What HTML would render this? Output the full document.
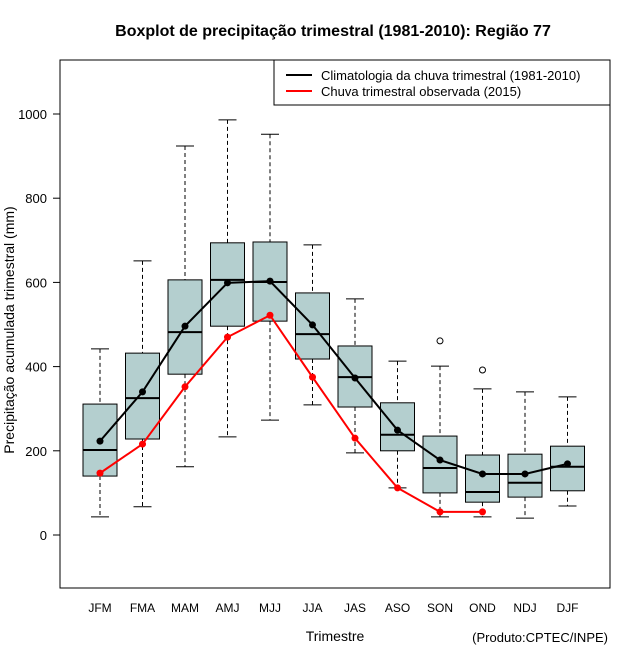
<!DOCTYPE html>
<html><head><meta charset="utf-8"><style>
body{margin:0;background:#fff;}
svg text{font-family:"Liberation Sans",sans-serif;}
</style></head><body>
<svg id="chart" width="640" height="660" xmlns="http://www.w3.org/2000/svg">
<rect width="640" height="660" fill="#fff"/>
<text x="333" y="36" text-anchor="middle" font-size="16" font-weight="bold">Boxplot de precipitação trimestral (1981-2010): Região 77</text>
<rect x="60" y="60" width="550" height="528" fill="none" stroke="#000"/>
<g id="yaxis"></g>
<g id="xaxis"></g>
<g id="boxes"></g>
<g id="lines"></g>
<text x="14" y="330" transform="rotate(-90 14 330)" text-anchor="middle" font-size="14">Precipitação acumulada trimestral (mm)</text>
<text x="335" y="641" text-anchor="middle" font-size="14">Trimestre</text>
<text x="608" y="642" text-anchor="end" font-size="13">(Produto:CPTEC/INPE)</text>
<g>
<rect x="274" y="60" width="336" height="45" fill="#fff" stroke="#000"/>
<line x1="286" y1="75" x2="312" y2="75" stroke="#000" stroke-width="2"/>
<text x="321" y="80" font-size="13">Climatologia da chuva trimestral (1981-2010)</text>
<line x1="286" y1="91" x2="312" y2="91" stroke="#f00" stroke-width="2"/>
<text x="321" y="96" font-size="13">Chuva trimestral observada (2015)</text>
</g>
</svg>
<script>
const categories=["JFM","FMA","MAM","AMJ","MJJ","JJA","JAS","ASO","SON","OND","NDJ","DJF"];
const whiskerLow=[43,67,162,233,273,309,195,112,43,43,40,69];
const q1=[140,228,382,496,508,418,304,200,100,78,90,105];
const median=[202,325,482,606,601,477,375,238,159,102,124,162];
const q3=[311,432,606,694,696,575,449,314,235,190,192,211];
const whiskerHigh=[442,651,924,986,952,689,561,413,401,347,340,328];
const outlierCat=[8,9];
const outlierVal=[461,392];
const climMean=[223,340,496,599,603,499,373,249,178,145,145,169];
const observed=[147,216,352,470,522,375,230,112,55,55];
const yTicks=[0,200,400,600,800,1000];
const NS="http://www.w3.org/2000/svg";
const y=v=>535-v*0.421;
const x=i=>100+i*42.5;
function mk(p,tag,a){const e=document.createElementNS(NS,tag);for(const k in a)e.setAttribute(k,a[k]);p.appendChild(e);return e;}
const ya=document.getElementById('yaxis');
mk(ya,'line',{x1:60,x2:60,y1:y(0),y2:y(1000),stroke:'#000'});
yTicks.forEach(t=>{
 const l=mk(ya,'line',{x1:53,x2:60,y1:y(t),y2:y(t),stroke:'#000'});
 
 
 const tx=mk(ya,'text',{x:47,y:y(t)+5,'text-anchor':'end','font-size':13});
 tx.textContent=t;
 
 
});
const xa=document.getElementById('xaxis');
categories.forEach((c,i)=>{
 const t=mk(xa,'text',{x:x(i),y:612,'text-anchor':'middle','font-size':12});
 t.textContent=c;
 
 
});
const bx=document.getElementById('boxes');
categories.forEach((c,i)=>{
 const g=mk(bx,'g',{});
 
 
 const cx=x(i),w=17;
 mk(g,'line',{x1:cx,x2:cx,y1:y(whiskerHigh[i]),y2:y(q3[i]),stroke:'#000','stroke-dasharray':'4,3'});
 mk(g,'line',{x1:cx,x2:cx,y1:y(q1[i]),y2:y(whiskerLow[i]),stroke:'#000','stroke-dasharray':'4,3'});
 mk(g,'line',{x1:cx-9,x2:cx+9,y1:y(whiskerHigh[i]),y2:y(whiskerHigh[i]),stroke:'#000'});
 mk(g,'line',{x1:cx-9,x2:cx+9,y1:y(whiskerLow[i]),y2:y(whiskerLow[i]),stroke:'#000'});
 mk(g,'rect',{x:cx-w,y:y(q3[i]),width:2*w,height:y(q1[i])-y(q3[i]),fill:'#b4cfcf',stroke:'#000'});
 mk(g,'line',{x1:cx-w,x2:cx+w,y1:y(median[i]),y2:y(median[i]),stroke:'#000','stroke-width':2});
});
outlierCat.forEach((ci,k)=>{
 const o=mk(bx,'circle',{cx:x(ci),cy:y(outlierVal[k]),r:3,fill:'none',stroke:'#000'});
 
 
});
const ln=document.getElementById('lines');
function series(vals,col,name){
 const p=mk(ln,'polyline',{points:vals.map((v,i)=>x(i)+','+y(v)).join(' '),fill:'none',stroke:col,'stroke-width':2});
 
 
 vals.forEach((v,i)=>{
  const c=mk(ln,'circle',{cx:x(i),cy:y(v),r:3.5,fill:col});
  
  
 });
}
series(climMean,'#000','climatology');
series(observed,'#f00','observed');
</script>
</body></html>
